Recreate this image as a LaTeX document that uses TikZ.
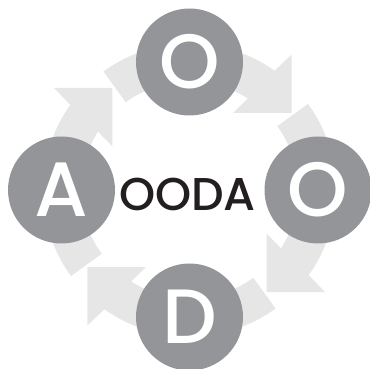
\documentclass[tikz,border=0pt]{standalone}
\usepackage{fontspec}
\setmainfont{Poppins}[UprightFont=* Medium]
\usetikzlibrary{calc}
\definecolor{circgray}{HTML}{939598}
\definecolor{arrowgray}{HTML}{E6E6E6}
\definecolor{textblack}{HTML}{231F20}
\begin{document}
\begin{tikzpicture}[x=1pt,y=1pt,
  stage/.style={inner sep=0pt, text=white, font=\fontsize{77}{77}\selectfont},
  disc/.style={fill=circgray},
  arrowfill/.style={fill=arrowgray}]
\useasboundingbox (0,0) rectangle (369,369);
\coordinate (C) at (189.5,179);
\begin{scope}[shift={(C)}]
\foreach \t in {90,0,-90,180}{
  \fill[arrowfill] ({\t+36}:146.5) arc[start angle=\t+36, end angle=\t-35.5, radius=146.5]
    -- ({\t-37}:169.5) -- ({\t-53}:128) -- ({\t-29.5}:88.5) -- ({\t-32.5}:108.5)
    arc[start angle=\t-32.5, end angle=\t+36, radius=108.5] -- cycle;
}
\end{scope}
\coordinate (pobs) at ($(C)+(90:128)$);
\coordinate (pori) at ($(C)+(0:128.5)$);
\coordinate (pdec) at ($(C)+(-90:127)$);
\coordinate (pact) at ($(C)+(180:128)$);
\foreach \p in {pobs,pori,pdec,pact}{
  \fill[disc] (\p) circle[radius=53.5];
}
\node[stage] (obs) at (pobs) {O};
\node[stage] (ori) at (pori) {O};
\node[stage] (dec) at (pdec) {D};
\node[stage] (act) at (pact) {A};
\node[text=textblack, font=\fontsize{46}{46}\selectfont, inner sep=0pt] (title) at (187.5,174.5) {OODA};
\end{tikzpicture}
\end{document}
